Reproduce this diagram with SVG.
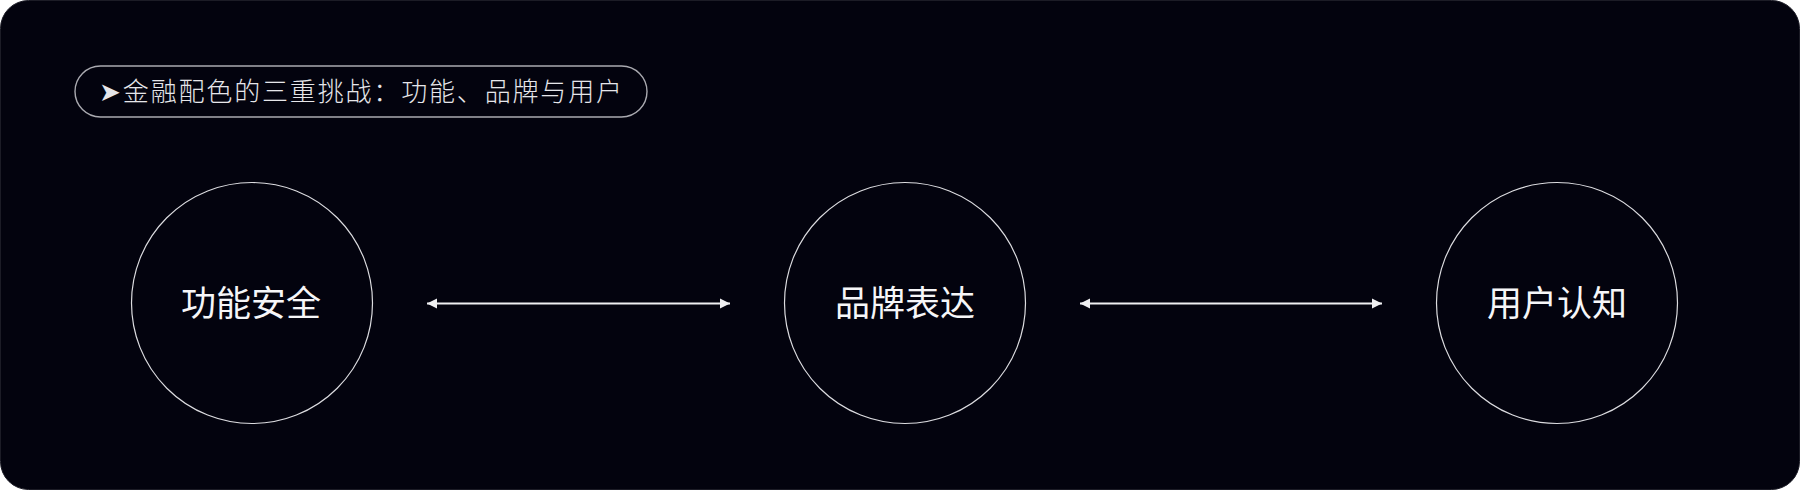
<svg xmlns="http://www.w3.org/2000/svg" width="1800" height="490" viewBox="0 0 1800 490">
  <style>
    .node circle { fill: none; stroke: #dcdce0; stroke-width: 1.2; }
    .label { font-family: "Noto Sans CJK SC", "Noto Sans", sans-serif; font-size: 35px; font-weight: 400; fill: #f6f6f8; text-anchor: middle; }
    .title { font-family: "Noto Sans CJK SC", "Noto Sans", sans-serif; font-size: 26px; font-weight: 300; fill: #e6e6ea; }
    .conn line { stroke: #f0f0f2; stroke-width: 2; marker-start: url(#arrowL); marker-end: url(#arrowR); }
  </style>
  <defs>
    <marker id="arrowR" viewBox="0 0 10 10" refX="10" refY="5" markerWidth="10" markerHeight="11" markerUnits="userSpaceOnUse" orient="auto">
      <path d="M0,0 L10,5 L0,10 Z" fill="#f0f0f2"/>
    </marker>
    <marker id="arrowL" viewBox="0 0 10 10" refX="0" refY="5" markerWidth="10" markerHeight="11" markerUnits="userSpaceOnUse" orient="auto">
      <path d="M10,0 L0,5 L10,10 Z" fill="#f0f0f2"/>
    </marker>
  </defs>
  <rect x="0" y="0" width="1800" height="490" fill="#ffffff"/>
  <rect x="0.5" y="0.5" width="1799" height="489" rx="28" ry="28" fill="#03030e" stroke="#1c1c26" stroke-width="1"/>

  <g id="title">
    <rect x="75" y="66" width="572" height="51" rx="25.5" ry="25.5" fill="none" stroke="#aaaab0" stroke-width="1.4"/>
    <text class="title" x="99" y="101" textLength="523" lengthAdjust="spacing">➤金融配色的三重挑战：功能、品牌与用户</text>
  </g>

  <g id="node-function" class="node">
    <circle cx="252" cy="303" r="120.5"/>
    <text class="label" x="251" y="316">功能安全</text>
  </g>
  <g id="node-brand" class="node">
    <circle cx="905" cy="303" r="120.5"/>
    <text class="label" x="905" y="316">品牌表达</text>
  </g>
  <g id="node-user" class="node">
    <circle cx="1557" cy="303" r="120.5"/>
    <text class="label" x="1557" y="316">用户认知</text>
  </g>

  <g id="connectors" class="conn">
    <line x1="427" y1="303.5" x2="730" y2="303.5"/>
    <line x1="1080" y1="303.5" x2="1382" y2="303.5"/>
  </g>
</svg>
